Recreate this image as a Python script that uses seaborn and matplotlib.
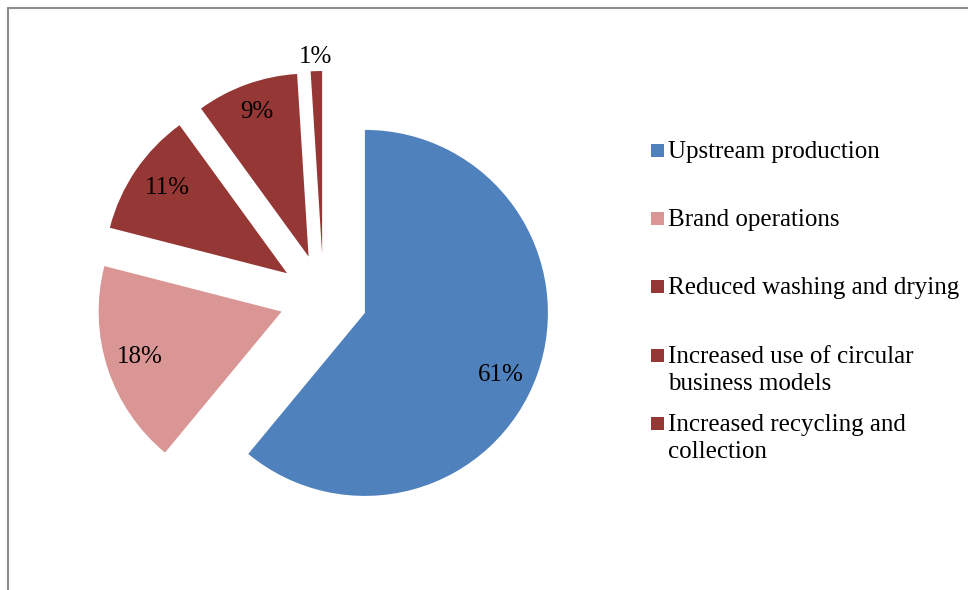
import matplotlib
matplotlib.use("Agg")
import matplotlib.pyplot as plt
from matplotlib.lines import Line2D
from matplotlib.patches import Rectangle
import numpy as np
import seaborn as sns

# Shares of the reduction potential
categories = [
    "Upstream production",
    "Brand operations",
    "Reduced washing and drying",
    "Increased use of circular\nbusiness models",
    "Increased recycling and\ncollection",
]
shares = [61, 18, 11, 9, 1]
colors = ["#4F81BD", "#D99694", "#953735", "#953735", "#953735"]

W, H = 968, 590
sns.set_theme(style="white")
plt.rcParams["font.family"] = ["Liberation Serif", "DejaVu Serif"]

fig = plt.figure(figsize=(W / 100, H / 100), dpi=100)
ax = fig.add_axes([0, 0, 1, 1])

palette = sns.color_palette(colors)
radius = 183
explode_px = 44
center = (323.5, H - 298)

wedges, texts, autotexts = ax.pie(
    shares,
    colors=palette,
    startangle=90,
    counterclock=False,
    radius=radius,
    center=center,
    explode=[explode_px] * len(shares),
    autopct=lambda p: f"{p:.0f}%",
    pctdistance=0.81,
    wedgeprops=dict(linewidth=0),
    textprops=dict(fontsize=18, color="black"),
    frame=True,
)

# Label placement per slice: (distance as fraction of radius, extra clockwise turn in degrees)
label_place = {0: (0.81, 4.0), 1: (0.81, 1.0), 2: (0.81, 2.0), 3: (0.85, 0.5), 4: (1.09, 0.0)}
for i, (d, turn) in label_place.items():
    w = wedges[i]
    mid = np.deg2rad(0.5 * (w.theta1 + w.theta2) - turn)
    cx, cy = w.center
    autotexts[i].set_position((cx + d * w.r * np.cos(mid), cy + d * w.r * np.sin(mid) - 2))

ax.set_xlim(0, W)
ax.set_ylim(0, H)
ax.set_aspect("equal")
ax.axis("off")

# Legend: square swatch and label, evenly spaced entries
leg_x, leg_top, leg_step, sw = 651, 150.5, 68.2, 13
for k, (name, col) in enumerate(zip(categories, palette)):
    yc = H - (leg_top + k * leg_step)
    ax.add_patch(Rectangle((leg_x, yc - sw / 2), sw, sw, facecolor=col, edgecolor="none"))
    ax.text(leg_x + 17, yc + 9.5, name, fontsize=18, va="top", ha="left",
            linespacing=1.3, color="black")

# Chart area border (left and top edges)
fig.add_artist(Line2D([8 / W, 8 / W], [0, 1 - 8 / H], transform=fig.transFigure,
                      color="#8c8c8c", linewidth=1.5))
fig.add_artist(Line2D([8 / W, 1], [1 - 8 / H, 1 - 8 / H], transform=fig.transFigure,
                      color="#8c8c8c", linewidth=1.5))

fig.savefig("out.png", dpi=100, facecolor="white")
